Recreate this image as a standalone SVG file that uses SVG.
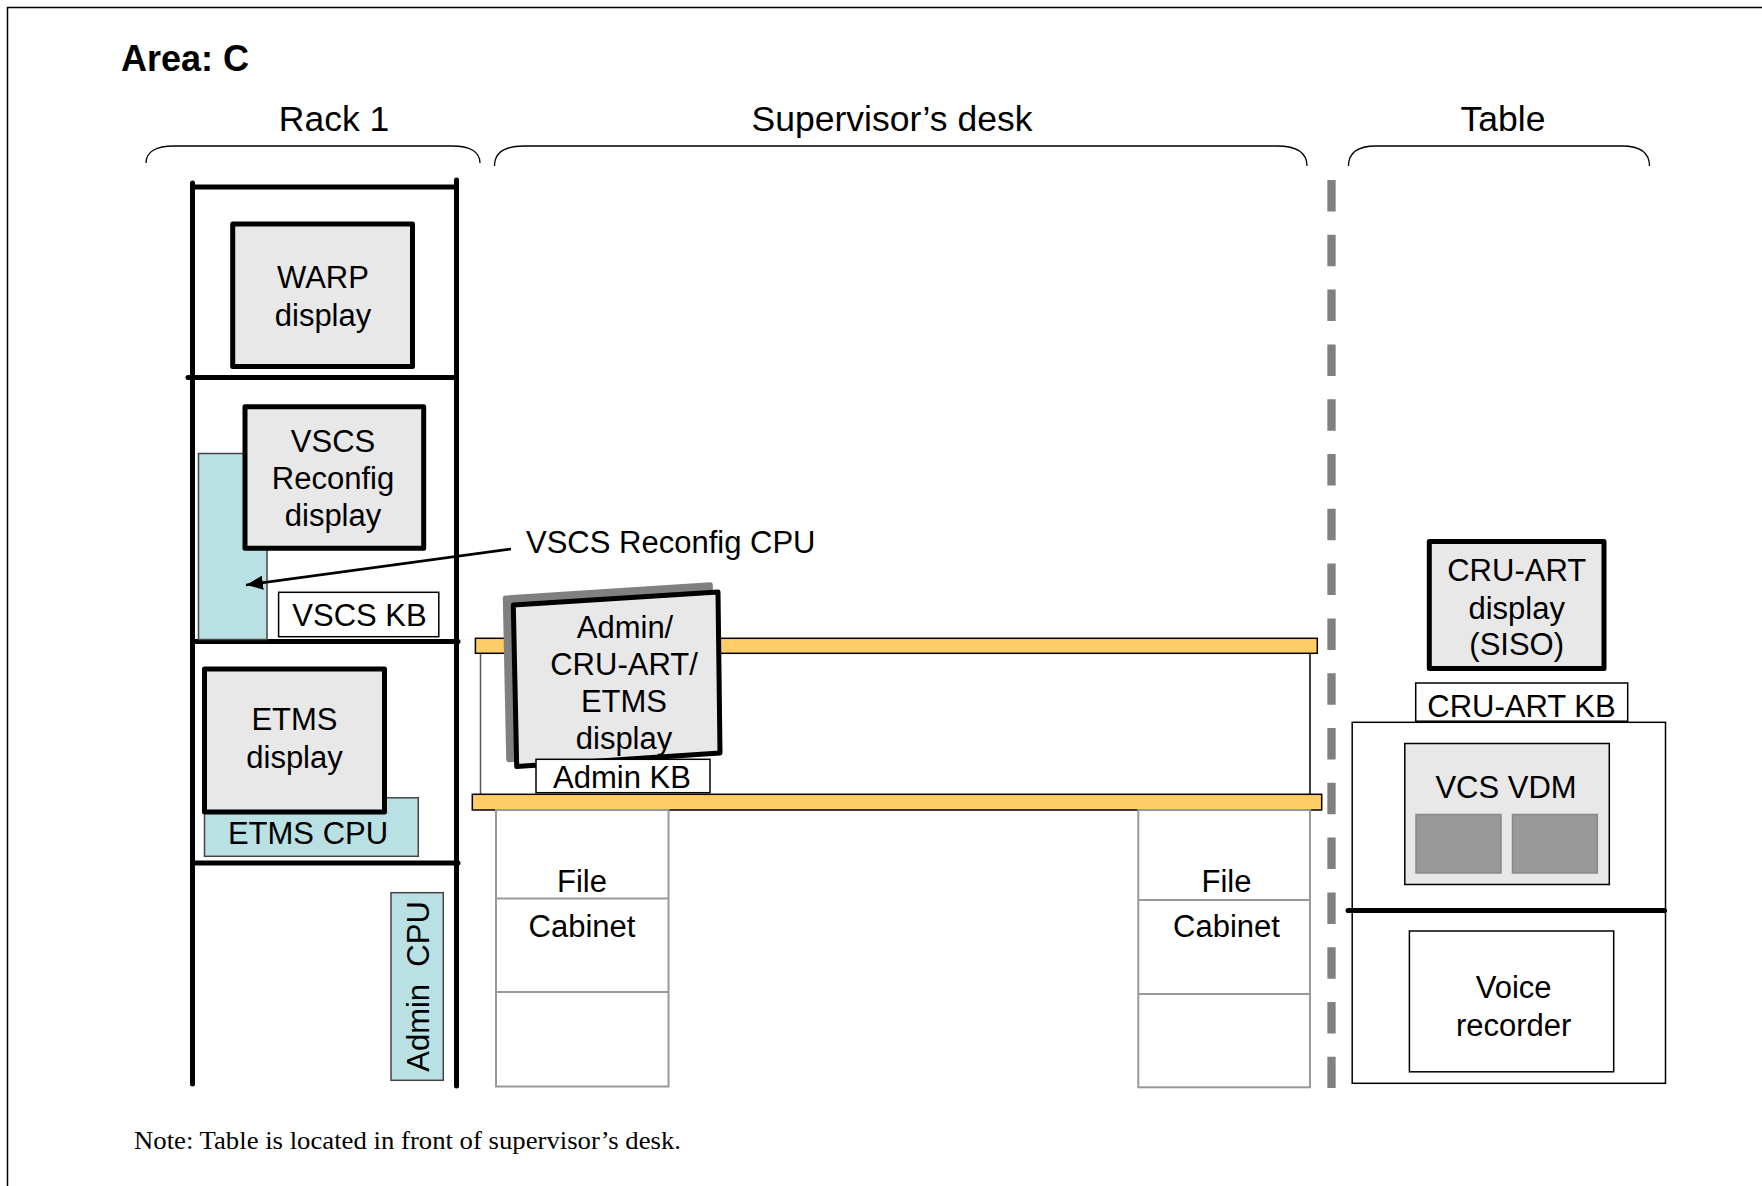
<svg xmlns="http://www.w3.org/2000/svg" width="1762" height="1186" viewBox="0 0 1762 1186">
<style>
text{font-family:"Liberation Sans",Arial,sans-serif;fill:#000}
.t{font-size:31px;text-anchor:middle}
.h{font-size:35.5px;text-anchor:middle}
.disp{fill:#e8e8e8;stroke:#000;stroke-width:5;stroke-linejoin:round}
.cpu{fill:#b9e0e3;stroke:#444;stroke-width:1.5}
.kb{fill:#fff;stroke:#000;stroke-width:1.5}
.rack{stroke:#000;stroke-width:5;stroke-linecap:round;fill:none}
.shelf{fill:#ffcc66;stroke:#000;stroke-width:1.5}
.cab{fill:#fff;stroke:#999;stroke-width:2}
.brace{fill:none;stroke:#000;stroke-width:1.3}
</style>
<defs>
<marker id="ah" markerUnits="userSpaceOnUse" markerWidth="18" markerHeight="16" refX="17" refY="7" orient="auto">
<path d="M0,0 L17,7 L0,14 z" fill="#000"/>
</marker>
</defs>
<rect width="1762" height="1186" fill="#fff"/>
<path d="M7.5,1186 V7.5 H1762" fill="none" stroke="#000" stroke-width="1.5"/>

<g id="titles">
<text x="121" y="71" style="font-size:36px;font-weight:bold">Area: C</text>
<text class="h" x="334" y="131">Rack 1</text>
<text class="h" x="892" y="131">Supervisor’s desk</text>
<text class="h" x="1503" y="131">Table</text>
<path class="brace" d="M146,163 C146,152 156,146 174,146 L452,146 C470,146 480,152 480,163"/>
<path class="brace" d="M494.5,166 C494.5,153 504,146 524,146 L1277,146 C1297,146 1307,153 1307,166"/>
<path class="brace" d="M1348.5,166 C1348.5,153 1357,146 1376,146 L1622,146 C1641,146 1649.5,153 1649.5,166"/>
</g>

<g id="rack1">
<line class="rack" x1="192.5" y1="183" x2="192.5" y2="1084"/>
<line class="rack" x1="456.5" y1="180" x2="456.5" y2="1086"/>
<line class="rack" x1="192.5" y1="187" x2="456.5" y2="187"/>
<line class="rack" x1="188" y1="377.5" x2="456.5" y2="377.5"/>
<line class="rack" x1="192.5" y1="641.5" x2="458" y2="641.5"/>
<line class="rack" x1="192.5" y1="863" x2="458" y2="863"/>
</g>

<g id="warp-display">
<rect class="disp" x="232.7" y="224" width="179.8" height="142.5"/>
<text class="t" x="323" y="288">WARP</text>
<text class="t" x="323" y="326">display</text>
</g>

<g id="vscs-cpu">
<rect class="cpu" x="198.5" y="453.5" width="68.5" height="186"/>
</g>

<g id="vscs-display">
<rect class="disp" x="245" y="406.7" width="178.7" height="141.6"/>
<text class="t" x="333" y="452">VSCS</text>
<text class="t" x="333" y="489">Reconfig</text>
<text class="t" x="333" y="526">display</text>
</g>

<g id="vscs-kb">
<rect class="kb" x="278.6" y="592.3" width="160.2" height="44.4"/>
<text class="t" x="359.5" y="626">VSCS KB</text>
</g>

<g id="vscs-cpu-label">
<text x="526" y="553" style="font-size:31px">VSCS Reconfig CPU</text>
</g>

<g id="etms-cpu">
<rect class="cpu" x="204.5" y="797.8" width="213.8" height="58.5"/>
<text class="t" x="308" y="844">ETMS CPU</text>
</g>

<g id="etms-display">
<rect class="disp" x="204.5" y="669" width="180" height="143"/>
<text class="t" x="294.5" y="730">ETMS</text>
<text class="t" x="294.5" y="768">display</text>
</g>

<g id="admin-cpu">
<rect class="cpu" x="391" y="892.7" width="52.3" height="187.6"/>
<text class="t" transform="translate(429,986.5) rotate(-90)" x="0" y="0" xml:space="preserve">Admin  CPU</text>
</g>

<g id="desk">
<line x1="480.5" y1="653" x2="480.5" y2="794" stroke="#555" stroke-width="1.5"/>
<line x1="1310" y1="653" x2="1310" y2="794" stroke="#000" stroke-width="1.5"/>
<rect class="shelf" x="475.4" y="638.3" width="841.9" height="15"/>
<rect class="shelf" x="472.3" y="794.3" width="849.4" height="15.7"/>
</g>

<g id="file-cabinet-left">
<rect class="cab" x="496" y="810" width="172.5" height="276.5"/>
<line x1="496" y1="898.5" x2="668.5" y2="898.5" stroke="#999" stroke-width="2"/>
<line x1="496" y1="992" x2="668.5" y2="992" stroke="#999" stroke-width="2"/>
<text class="t" x="582" y="891.5">File</text>
<text class="t" x="582" y="937">Cabinet</text>
</g>

<g id="file-cabinet-right">
<rect class="cab" x="1138.3" y="810" width="171.7" height="277.3"/>
<line x1="1138.3" y1="900" x2="1310" y2="900" stroke="#999" stroke-width="2"/>
<line x1="1138.3" y1="994" x2="1310" y2="994" stroke="#999" stroke-width="2"/>
<text class="t" x="1226.5" y="891.7">File</text>
<text class="t" x="1226.5" y="936.7">Cabinet</text>
</g>

<g id="admin-display">
<polygon points="505.3,598 710.3,584.7 712,746.3 508.7,759.7" fill="#808080" stroke="#808080" stroke-width="5" stroke-linejoin="round"/>
<polygon class="disp" points="513.3,605 718,592 720,753 516.7,766.5"/>
<text class="t" x="625" y="638">Admin/</text>
<text class="t" x="624" y="675">CRU-ART/</text>
<text class="t" x="624" y="712">ETMS</text>
<text class="t" x="624" y="749">display</text>
</g>

<g id="admin-kb">
<rect class="kb" x="536" y="759.3" width="174" height="33.4"/>
<text class="t" x="622" y="788">Admin KB</text>
</g>

<g id="divider">
<line x1="1331.5" y1="180" x2="1331.5" y2="1088" stroke="#808080" stroke-width="8.3" stroke-dasharray="31.5 23.3"/>
</g>

<g id="cru-art-display">
<rect class="disp" x="1429.3" y="541.5" width="174.7" height="127"/>
<text class="t" x="1516.7" y="581">CRU-ART</text>
<text class="t" x="1516.7" y="618.5">display</text>
<text class="t" x="1516.7" y="655">(SISO)</text>
</g>

<g id="table">
<rect x="1352.2" y="722.3" width="313.3" height="361" fill="#fff" stroke="#000" stroke-width="1.5"/>
<line x1="1348" y1="910.5" x2="1664.5" y2="910.5" stroke="#000" stroke-width="5" stroke-linecap="round"/>
</g>

<g id="cru-art-kb">
<rect class="kb" x="1415.7" y="683" width="212" height="38.2"/>
<text class="t" x="1521.5" y="716.5">CRU-ART KB</text>
</g>

<g id="vcs-vdm">
<rect x="1404.8" y="743.5" width="204.5" height="141" fill="#e8e8e8" stroke="#000" stroke-width="1.5"/>
<rect x="1416" y="814.5" width="85" height="58.5" fill="#999" stroke="#888" stroke-width="1.5"/>
<rect x="1512.5" y="814.5" width="84.8" height="58.5" fill="#999" stroke="#888" stroke-width="1.5"/>
<text class="t" x="1506" y="797.7">VCS VDM</text>
</g>

<g id="voice-recorder">
<rect x="1409.4" y="931" width="204.3" height="140.8" fill="#fff" stroke="#000" stroke-width="1.5"/>
<text class="t" x="1513.7" y="997.5">Voice</text>
<text class="t" x="1513.7" y="1036">recorder</text>
</g>

<g id="connectors">
<line x1="511" y1="549" x2="246" y2="585" stroke="#000" stroke-width="2.7" marker-end="url(#ah)"/>
</g>

<g id="note">
<text x="134" y="1149" textLength="547" lengthAdjust="spacingAndGlyphs" style="font-family:'Liberation Serif','Times New Roman',serif;font-size:25px">Note: Table is located in front of supervisor’s desk.</text>
</g>
</svg>
